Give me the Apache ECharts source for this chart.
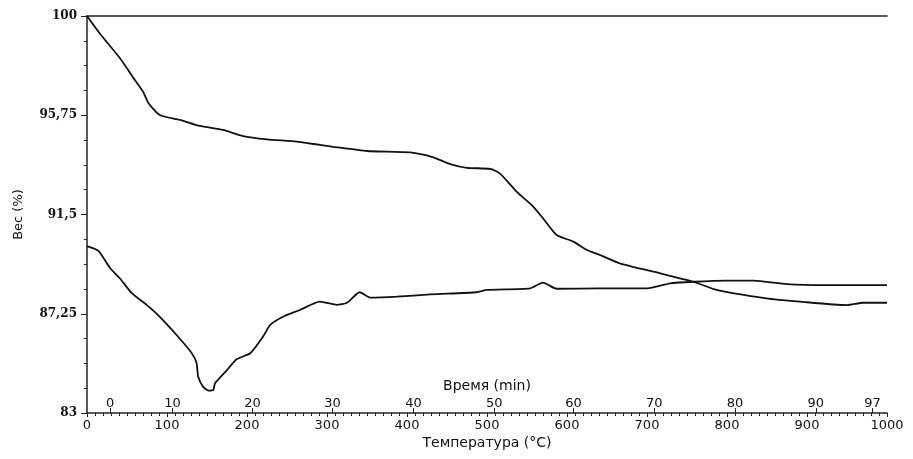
<!DOCTYPE html>
<html>
<head>
<meta charset="utf-8">
<script src="https://cdn.jsdelivr.net/npm/echarts@6/dist/echarts.min.js"></script>
<style>html,body{margin:0;padding:0;background:#fff;}#c{width:913px;height:459px;}</style>
</head>
<body>
<div id="c"></div>
<script>
// Upper curve (weight loss, %) vs temperature (°C)
const tempA = [0, 16, 41, 58, 70, 77, 91, 116, 141, 170, 195, 225, 262, 291, 308, 350, 404, 433, 454, 475, 504, 516, 537, 558, 570, 587, 608, 625, 641, 666, 708, 758, 787, 849, 891, 950, 970, 1000];
const weightA = [100, 99.25, 98.2, 97.35, 96.76, 96.26, 95.76, 95.55, 95.29, 95.12, 94.86, 94.72, 94.62, 94.48, 94.40, 94.22, 94.16, 93.95, 93.66, 93.50, 93.45, 93.26, 92.48, 91.83, 91.34, 90.62, 90.34, 89.98, 89.77, 89.41, 89.05, 88.62, 88.27, 87.91, 87.77, 87.62, 87.72, 87.72];
// Lower curve
const tempB = [0, 14, 29, 41, 56, 75, 91, 112, 131, 137, 139, 145, 152, 158, 160, 175, 187, 204, 220, 229, 245, 266, 291, 302, 312, 325, 341, 354, 387, 429, 487, 500, 554, 570, 587, 641, 700, 729, 758, 800, 833, 875, 925, 1000];
const weightB = [90.15, 89.95, 89.20, 88.77, 88.13, 87.62, 87.12, 86.34, 85.56, 85.13, 84.55, 84.13, 83.96, 83.99, 84.27, 84.84, 85.30, 85.56, 86.27, 86.77, 87.12, 87.41, 87.77, 87.70, 87.63, 87.72, 88.17, 87.94, 87.98, 88.08, 88.17, 88.27, 88.34, 88.58, 88.32, 88.34, 88.34, 88.55, 88.62, 88.67, 88.67, 88.52, 88.48, 88.48];
// Y tick labels
const yTicks = [83, 87.25, 91.5, 95.75, 100];
// Time axis labels (min) and their temperature positions
const timeLabels = ['0', '10', '20', '30', '40', '50', '60', '70', '80', '90', '97'];
const timeTickTemps = [29, 107, 207, 307, 408, 509, 608, 709, 810, 911, 982];

const yMinor = [];
for (let i = 0; i < yTicks.length - 1; i++) {
  const step = (yTicks[i + 1] - yTicks[i]) / 4;
  for (let k = 1; k < 4; k++) yMinor.push(yTicks[i] + step * k);
}
const pairs = (xs, ys) => xs.map((x, i) => [x, ys[i]]);
const axisColor = '#222';
const chart = echarts.init(document.getElementById('c'));
chart.setOption({
  backgroundColor: '#fff',
  animation: false,
  grid: { left: 87, right: 26, top: 16, bottom: 46 },
  xAxis: [
    {
      type: 'value', position: 'bottom', min: 0, max: 1000, interval: 100,
      name: 'Температура (°C)', nameLocation: 'middle', nameGap: 23, nameMoveOverlap: false,
      nameTextStyle: { fontFamily: 'DejaVu Sans', fontSize: 14, color: '#111' },
      axisLine: { show: true, lineStyle: { color: axisColor, width: 1.5 } },
      axisTick: { show: true, length: 4, lineStyle: { color: axisColor } },
      minorTick: { show: true, splitNumber: 10, length: 3, lineStyle: { color: axisColor } },
      axisLabel: { margin: 6, fontFamily: 'DejaVu Sans', fontSize: 13, color: '#111', formatter: v => String(v) },
      splitLine: { show: false }
    },
    {
      type: 'value', position: 'bottom', min: 0, max: 1000,
      name: 'Время (min)', nameLocation: 'middle', nameGap: -34, nameMoveOverlap: false,
      nameTextStyle: { fontFamily: 'DejaVu Sans', fontSize: 14, color: '#111' },
      axisLine: { show: false },
      axisTick: { show: true, inside: true, length: 5, customValues: timeTickTemps, lineStyle: { color: axisColor } },
      axisLabel: {
        show: true, inside: true, margin: 3, customValues: timeTickTemps,
        fontFamily: 'DejaVu Sans', fontSize: 13, color: '#111',
        formatter: v => { const i = timeTickTemps.indexOf(v); return i >= 0 ? timeLabels[i] : ''; }
      },
      splitLine: { show: false }
    },
    {
      type: 'value', position: 'top', min: 0, max: 1000,
      axisLine: { show: true, lineStyle: { color: axisColor, width: 1.5 } },
      axisTick: { show: false }, axisLabel: { show: false }, splitLine: { show: false }
    }
  ],
  yAxis: [
    {
      type: 'value', min: 83, max: 100,
      name: 'Вес (%)', nameLocation: 'middle', nameGap: 62, nameMoveOverlap: false,
      nameTextStyle: { fontFamily: 'DejaVu Sans', fontSize: 13, color: '#111' },
      axisLine: { show: true, lineStyle: { color: axisColor, width: 1.5 } },
      axisTick: { show: true, length: 6, customValues: yTicks, lineStyle: { color: axisColor } },
      axisLabel: {
        customValues: yTicks, margin: 10, fontFamily: 'DejaVu Serif', fontWeight: 'bold',
        fontSize: 12, color: '#111', formatter: v => String(v).replace('.', ',')
      },
      splitLine: { show: false }
    },
    {
      type: 'value', min: 83, max: 100, position: 'left',
      axisLine: { show: false },
      axisTick: { show: true, length: 3, customValues: yMinor, lineStyle: { color: axisColor } },
      axisLabel: { show: false }, splitLine: { show: false }
    }
  ],
  series: [
    {
      type: 'line', xAxisIndex: 0, yAxisIndex: 0, data: pairs(tempA, weightA),
      showSymbol: false, smooth: 0.2, lineStyle: { color: '#111', width: 1.8 }
    },
    {
      type: 'line', xAxisIndex: 0, yAxisIndex: 0, data: pairs(tempB, weightB),
      showSymbol: false, smooth: 0.2, lineStyle: { color: '#111', width: 1.8 }
    }
  ]
});
</script>
</body>
</html>
